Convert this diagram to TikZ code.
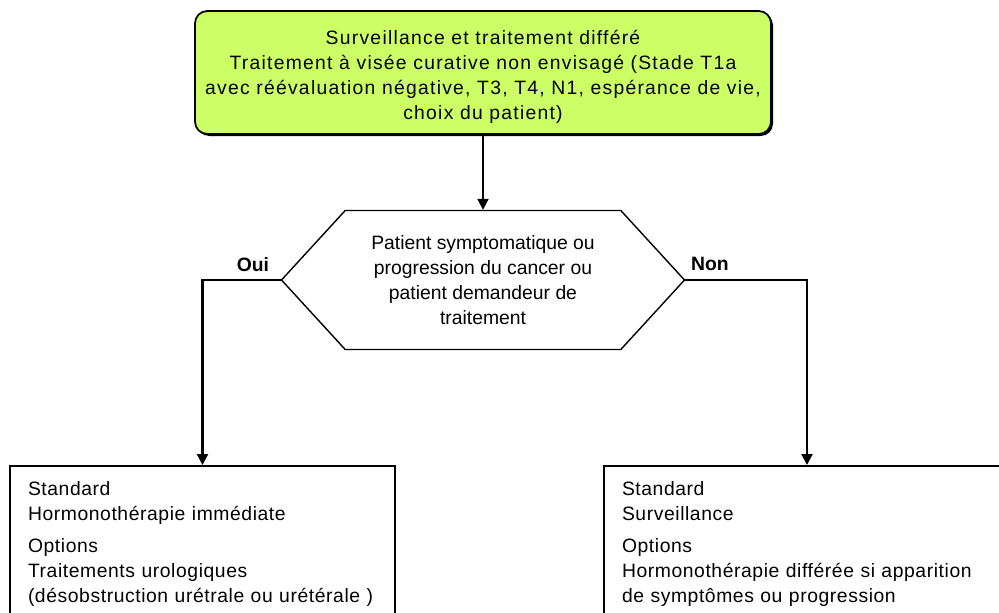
\documentclass[tikz,border=0pt]{standalone}
\usepackage{fontspec}
\setmainfont{Liberation Sans}
\newfontfamily\widesans{Liberation Sans}[LetterSpace=6.5]
\newfontfamily\boxsans{Liberation Sans}[LetterSpace=3]
\definecolor{StartGreen}{HTML}{CCFF66}
\usetikzlibrary{shapes.symbols, arrows.meta, positioning, shadows}

\begin{document}
\begin{tikzpicture}[
  every node/.style={font=\fontsize{11}{14.1}\selectfont},
  start/.style={
    rectangle, rounded corners=7pt,
    draw=black, line width=1pt, fill=StartGreen,
    minimum width=11.52cm, minimum height=2.46cm,
    align=center, inner sep=2pt,
    font=\fontsize{11}{14.1}\selectfont\widesans,
    drop shadow={shadow xshift=0.04cm, shadow yshift=-0.04cm, opacity=1, fill=black}},
  hexa/.style={
    signal, signal to=west and east, signal pointer angle=95,
    draw=black, line width=0.8pt, fill=white,
    minimum width=8.06cm, minimum height=2.78cm,
    align=center, inner sep=1pt},
  result/.style={
    rectangle, draw=black, line width=1pt, fill=white,
    anchor=north, font=\fontsize{11}{14.1}\selectfont\boxsans,
    align=left, inner xsep=0.36cm, inner ysep=0.32cm},
  arr/.style={
    -{Triangle[length=2.2mm,width=2.2mm]},
    draw=black, line width=1.2pt},
  lbl/.style={font=\fontsize{11}{13}\selectfont\bfseries},
]
\clip (0,0) rectangle (19.98,-12.24);

\node[start] (init) at (9.66, -1.45)
  {\rule{0pt}{13pt}Surveillance et traitement différé\\
   Traitement à visée curative non envisagé (Stade T1a\\
   avec réévaluation négative, T3, T4, N1, espérance de vie,\\
   choix du patient)};

\node[hexa] (chk) at (9.66, -5.6)
  {Patient symptomatique ou\\progression du cancer ou\\patient demandeur de\\traitement};

\node[result, minimum width=7.7cm, text width=6.98cm] (oui) at (4.05, -9.3)
  {Standard\\
   Hormonothérapie immédiate\\[4pt]
   Options\\
   Traitements urologiques\\
   (désobstruction urétrale ou urétérale )\rule[-2cm]{0pt}{0pt}};

\node[result, minimum width=8.12cm, text width=7.4cm] (non) at (16.14, -9.3)
  {Standard\\
   Surveillance\\[4pt]
   Options\\
   Hormonothérapie différée si apparition\\
   de symptômes ou progression\rule[-2cm]{0pt}{0pt}};

\draw[arr] (init.south) -- (chk.north);
\draw[arr] (chk.west) -| (oui.north);
\draw[arr] (chk.east) -| (non.north);

\node[lbl] (ouilbl) at (5.06, -5.3) {Oui};
\node[lbl] (nonlbl) at (14.2, -5.28) {Non};

\end{tikzpicture}
\end{document}
